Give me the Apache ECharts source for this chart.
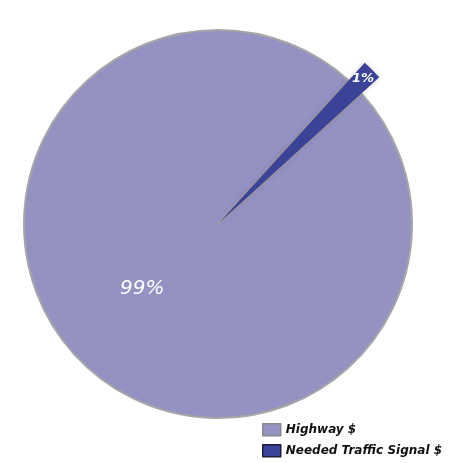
<!DOCTYPE html>
<html><head><meta charset="utf-8">
<script src="https://cdn.jsdelivr.net/npm/echarts@6/dist/echarts.min.js"></script>
<style>html,body{margin:0;padding:0;background:#fff}#c{width:458px;height:463px}</style>
</head><body><div id="c"></div>
<script>
const categories = ['Highway $', 'Needed Traffic Signal $'];
const values = [98.5, 1.5];
const labels = ['99%', '1%'];
const colors = ['#9392c3', '#3a4398'];

const chart = echarts.init(document.getElementById('c'));
const font = "'DejaVu Sans', sans-serif";
const startAngle = 42.3;
const center = [218, 224];
const none = { color: 'rgba(0,0,0,0)', borderWidth: 0 };
const legendText = { fontFamily: font, fontSize: 12, fontStyle: 'italic', fontWeight: 'bold', color: '#111' };
const legendBorders = ['#8a8a8a', '#1e1e3a'];

chart.setOption({
  animation: false,
  legend: categories.map((c, i) => ({
    orient: 'vertical', left: 262, top: 423 + i * 21, itemWidth: 18, itemHeight: 12, padding: 0, itemGap: 0,
    selectedMode: false, textStyle: legendText,
    data: [{ name: c, icon: 'rect', itemStyle: { color: colors[i], borderColor: legendBorders[i], borderWidth: 1.5 } }]
  })),
  series: [
    {
      type: 'pie', center: center, radius: [0, 194], startAngle: startAngle, clockwise: true,
      silent: true,
      label: { show: true, position: 'inside', color: '#fff', fontFamily: font, fontSize: 20, fontStyle: 'italic', offset: [-5, -6], formatter: p => p.data.lbl },
      labelLine: { show: false },
      data: [
        { name: categories[0], value: values[0], lbl: labels[0], itemStyle: { color: colors[0], borderColor: '#a6a6a6', borderWidth: 2 } },
        { name: 'gapA', value: values[1], lbl: '', itemStyle: none, label: { show: false } }
      ]
    },
    {
      type: 'pie', center: center, radius: [0, 218], startAngle: startAngle, clockwise: true,
      silent: true, label: { show: false }, labelLine: { show: false },
      data: [
        { name: 'gapB', value: values[0], itemStyle: none },
        { name: categories[1], value: values[1], itemStyle: { color: colors[1], shadowBlur: 5, shadowColor: 'rgba(120,60,60,0.25)' } }
      ]
    },
    {
      type: 'pie', center: center, radius: [188, 216], startAngle: startAngle, clockwise: true,
      silent: true,
      label: { show: true, position: 'inside', color: '#fff', fontFamily: font, fontSize: 13, fontStyle: 'italic', fontWeight: 'bold', rotate: 0, formatter: p => p.data.lbl },
      labelLine: { show: false },
      data: [
        { name: 'gapC', value: values[0], lbl: '', itemStyle: none, label: { show: false } },
        { name: 'lblC', value: values[1], lbl: labels[1], itemStyle: none }
      ]
    }
  ]
});
</script></body></html>
